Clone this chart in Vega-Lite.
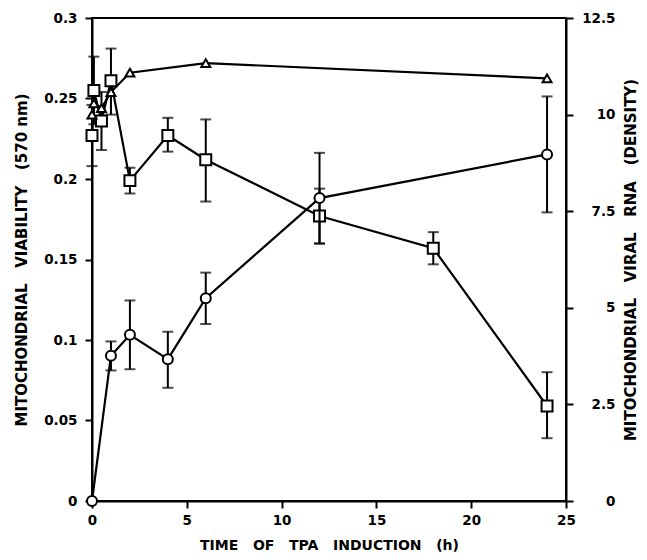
{
  "$schema": "https://vega.github.io/schema/vega-lite/v6.json",
  "width": 474,
  "height": 483,
  "autosize": "none",
  "padding": {"left": 92, "top": 18, "right": 81, "bottom": 59},
  "background": "white",
  "config": {
    "view": {"stroke": "black", "strokeWidth": 2},
    "scale": {"continuousPadding": 0},
    "axis": {
      "grid": false,
      "domainColor": "black",
      "domainWidth": 2,
      "tickColor": "black",
      "tickWidth": 2,
      "tickSize": 7,
      "labelFont": "DejaVu Sans",
      "labelFontWeight": "bold",
      "labelFontSize": 13.5,
      "labelColor": "black",
      "labelFlush": false,
      "titleFont": "DejaVu Sans",
      "titleFontWeight": "bold",
      "titleFontSize": 14,
      "titleColor": "black"
    }
  },
  "datasets": {
    "viability": [
      {"series": "square", "t": 0, "v": 0.227, "lo": 0.208, "hi": 0.246},
      {"series": "square", "t": 0.1, "v": 0.255, "lo": 0.234, "hi": 0.276},
      {"series": "square", "t": 0.5, "v": 0.236, "lo": 0.218, "hi": 0.254},
      {"series": "square", "t": 1, "v": 0.261, "lo": 0.24, "hi": 0.281},
      {"series": "square", "t": 2, "v": 0.199, "lo": 0.191, "hi": 0.207},
      {"series": "square", "t": 4, "v": 0.227, "lo": 0.217, "hi": 0.238},
      {"series": "square", "t": 6, "v": 0.212, "lo": 0.186, "hi": 0.237},
      {"series": "square", "t": 12, "v": 0.177, "lo": 0.16, "hi": 0.194},
      {"series": "square", "t": 18, "v": 0.157, "lo": 0.147, "hi": 0.167},
      {"series": "square", "t": 24, "v": 0.059, "lo": 0.039, "hi": 0.08},
      {"series": "triangle", "t": 0, "v": 0.24, "lo": null, "hi": null},
      {"series": "triangle", "t": 0.1, "v": 0.247, "lo": null, "hi": null},
      {"series": "triangle", "t": 0.5, "v": 0.244, "lo": null, "hi": null},
      {"series": "triangle", "t": 1, "v": 0.254, "lo": null, "hi": null},
      {"series": "triangle", "t": 2, "v": 0.266, "lo": null, "hi": null},
      {"series": "triangle", "t": 6, "v": 0.272, "lo": null, "hi": null},
      {"series": "triangle", "t": 24, "v": 0.2625, "lo": null, "hi": null}
    ],
    "rna": [
      {"t": 0, "d": 0, "lo": null, "hi": null},
      {"t": 1, "d": 3.76, "lo": 3.38, "hi": 4.13},
      {"t": 2, "d": 4.3, "lo": 3.41, "hi": 5.19},
      {"t": 4, "d": 3.67, "lo": 2.93, "hi": 4.38},
      {"t": 6, "d": 5.25, "lo": 4.58, "hi": 5.91},
      {"t": 12, "d": 7.84, "lo": 6.66, "hi": 9.01},
      {"t": 24, "d": 8.97, "lo": 7.47, "hi": 10.47}
    ]
  },
  "layer": [
    {
      "data": {"name": "viability"},
      "encoding": {
        "x": {
          "field": "t", "type": "quantitative",
          "scale": {"domain": [0, 25], "nice": false, "zero": false, "padding": 0},
          "axis": {"values": [0, 5, 10, 15, 20, 25], "labelPadding": 5, "titlePadding": 12, "labelFlush": false},
          "title": "TIME\u00a0\u00a0\u00a0OF\u00a0\u00a0\u00a0TPA\u00a0\u00a0\u00a0INDUCTION\u00a0\u00a0\u00a0(h)"
        }
      },
      "layer": [
        {
          "mark": {"type": "rule", "color": "black", "strokeWidth": 2},
          "encoding": {
            "y": {"field": "lo", "type": "quantitative", "scale": {"domain": [0, 0.3], "nice": false, "padding": 0}, "title": "MITOCHONDRIAL\u00a0\u00a0\u00a0VIABILITY\u00a0\u00a0\u00a0(570\u00a0nm)"},
            "y2": {"field": "hi"}
          }
        },
        {
          "mark": {"type": "tick", "orient": "horizontal", "color": "black", "size": 11, "thickness": 2},
          "encoding": {
            "y": {"field": "hi", "type": "quantitative", "scale": {"domain": [0, 0.3], "nice": false, "padding": 0}, "title": "MITOCHONDRIAL\u00a0\u00a0\u00a0VIABILITY\u00a0\u00a0\u00a0(570\u00a0nm)"}
          }
        },
        {
          "mark": {"type": "tick", "orient": "horizontal", "color": "black", "size": 11, "thickness": 2},
          "encoding": {
            "y": {"field": "lo", "type": "quantitative", "scale": {"domain": [0, 0.3], "nice": false, "padding": 0}, "title": "MITOCHONDRIAL\u00a0\u00a0\u00a0VIABILITY\u00a0\u00a0\u00a0(570\u00a0nm)"}
          }
        },
        {
          "mark": {"type": "line", "color": "black", "strokeWidth": 2.2},
          "encoding": {
            "y": {"field": "v", "type": "quantitative", "scale": {"domain": [0, 0.3], "nice": false, "padding": 0}, "title": "MITOCHONDRIAL\u00a0\u00a0\u00a0VIABILITY\u00a0\u00a0\u00a0(570\u00a0nm)"},
            "detail": {"field": "series"}
          }
        },
        {
          "mark": {"type": "point", "filled": true, "fill": "white", "stroke": "black", "strokeWidth": 2, "opacity": 1},
          "encoding": {
            "y": {
              "field": "v", "type": "quantitative",
              "scale": {"domain": [0, 0.3], "nice": false, "padding": 0},
              "title": "MITOCHONDRIAL\u00a0\u00a0\u00a0VIABILITY\u00a0\u00a0\u00a0(570\u00a0nm)",
              "axis": {"values": [0, 0.05, 0.1, 0.15, 0.2, 0.25, 0.3], "format": ".3~g", "labelPadding": 8, "titlePadding": 14, "titleFontSize": 15}
            },
            "shape": {"field": "series", "type": "nominal", "scale": {"domain": ["square", "triangle"], "range": ["square", "triangle-up"]}, "legend": null},
            "size": {"field": "series", "type": "nominal", "scale": {"domain": ["square", "triangle"], "range": [120, 80]}, "legend": null}
          }
        }
      ]
    },
    {
      "data": {"name": "rna"},
      "encoding": {
        "x": {"field": "t", "type": "quantitative", "scale": {"domain": [0, 25], "nice": false, "zero": false, "padding": 0}, "title": "TIME\u00a0\u00a0\u00a0OF\u00a0\u00a0\u00a0TPA\u00a0\u00a0\u00a0INDUCTION\u00a0\u00a0\u00a0(h)"}
      },
      "layer": [
        {
          "mark": {"type": "rule", "color": "black", "strokeWidth": 2},
          "encoding": {
            "y": {"field": "lo", "type": "quantitative", "scale": {"domain": [0, 12.5], "nice": false, "padding": 0}, "title": "MITOCHONDRIAL\u00a0\u00a0\u00a0VIRAL\u00a0\u00a0\u00a0RNA\u00a0\u00a0\u00a0(DENSITY)"},
            "y2": {"field": "hi"}
          }
        },
        {
          "mark": {"type": "tick", "orient": "horizontal", "color": "black", "size": 11, "thickness": 2},
          "encoding": {
            "y": {"field": "hi", "type": "quantitative", "scale": {"domain": [0, 12.5], "nice": false, "padding": 0}, "title": "MITOCHONDRIAL\u00a0\u00a0\u00a0VIRAL\u00a0\u00a0\u00a0RNA\u00a0\u00a0\u00a0(DENSITY)"}
          }
        },
        {
          "mark": {"type": "tick", "orient": "horizontal", "color": "black", "size": 11, "thickness": 2},
          "encoding": {
            "y": {"field": "lo", "type": "quantitative", "scale": {"domain": [0, 12.5], "nice": false, "padding": 0}, "title": "MITOCHONDRIAL\u00a0\u00a0\u00a0VIRAL\u00a0\u00a0\u00a0RNA\u00a0\u00a0\u00a0(DENSITY)"}
          }
        },
        {
          "mark": {"type": "line", "color": "black", "strokeWidth": 2.2},
          "encoding": {
            "y": {"field": "d", "type": "quantitative", "scale": {"domain": [0, 12.5], "nice": false, "padding": 0}, "title": "MITOCHONDRIAL\u00a0\u00a0\u00a0VIRAL\u00a0\u00a0\u00a0RNA\u00a0\u00a0\u00a0(DENSITY)"}
          }
        },
        {
          "mark": {"type": "point", "shape": "circle", "size": 100, "filled": true, "fill": "white", "stroke": "black", "strokeWidth": 2, "opacity": 1},
          "encoding": {
            "y": {
              "field": "d", "type": "quantitative",
              "scale": {"domain": [0, 12.5], "nice": false, "padding": 0},
              "title": "MITOCHONDRIAL\u00a0\u00a0\u00a0VIRAL\u00a0\u00a0\u00a0RNA\u00a0\u00a0\u00a0(DENSITY)",
              "axis": {"orient": "right", "values": [0, 2.5, 5, 7.5, 10, 12.5], "format": ".3~g", "labelAlign": "right", "labelPadding": 42, "titlePadding": 23, "titleAngle": 270, "titleFontSize": 15}
            }
          }
        }
      ]
    }
  ],
  "resolve": {"scale": {"y": "independent"}, "axis": {"y": "independent"}}
}
